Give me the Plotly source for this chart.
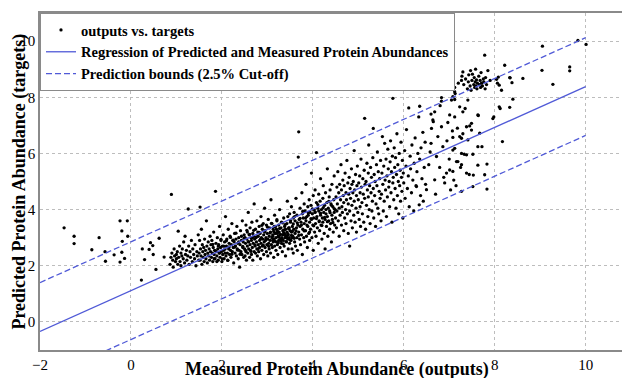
import plotly.graph_objects as go

# ---- data ----
seg_a = [(-1.47,3.35),(-1.25,3.05),(-1.25,2.79),(-0.86,2.57),(-0.70,3.0),(-0.57,2.5),(-0.56,2.16),(-0.37,2.39),(-0.24,3.6),(-0.08,3.6),
         (-0.2,3.24),(-0.07,3.05),(-0.19,2.87),(-0.2,2.48),(-0.24,2.13),(-0.14,2.26),(0.89,4.54),(0.25,2.6),(0.30,2.22),(0.40,2.58),
         (0.43,2.82),(0.48,2.72),(0.49,2.4),(0.55,1.87),(0.23,1.49),(0.62,2.98),(0.73,2.31)]

seg_b = [(0.86,2.05),(0.88,2.3),(0.9,2.45),(0.92,2.2),(0.93,1.95),(0.95,2.6),(0.96,2.35),(0.98,2.15),(1.0,2.4),(1.0,2.25),
         (1.02,2.5),(1.03,2.05),(1.04,3.23),(1.05,2.3),(1.07,2.7),(1.08,2.15),(1.1,2.45),(1.1,2.0),(1.12,2.35),(1.13,2.6),
         (1.15,2.25),(1.16,2.85),(1.18,2.1),(1.19,3.05),(1.2,2.4),(1.22,2.55),(1.23,2.2),(1.25,2.35),(1.26,4.02),(1.27,2.7),
         (1.28,2.05),(1.3,2.5),(1.31,2.3),(1.33,2.9),(1.35,2.15),(1.36,2.6),(1.38,2.4),(1.4,2.25),(1.41,2.75),(1.43,2.0),
         (1.45,2.5),(1.46,2.35),(1.48,3.1),(1.49,2.2),(1.52,4.09)]

seg_c = [(1.50,2.45),(1.51,2.9),(1.52,2.2),(1.53,2.6),(1.54,2.35),(1.55,3.3),(1.56,2.05),(1.57,2.75),(1.58,2.5),(1.59,2.3),
         (1.60,2.65),(1.61,2.15),(1.62,2.95),(1.63,2.4),(1.64,2.55),(1.65,2.25),(1.66,3.6),(1.67,2.7),(1.68,2.1),(1.69,2.45),
         (1.70,2.85),(1.71,2.35),(1.72,2.6),(1.73,2.2),(1.74,3.05),(1.75,2.5),(1.76,2.75),(1.77,2.3),(1.78,2.9),(1.79,2.45),
         (1.80,2.15),(1.81,2.65),(1.82,3.2),(1.83,2.4),(1.84,2.55),(1.85,2.25),(1.86,4.65),(1.87,2.8),(1.88,2.5),(1.89,2.35),
         (1.90,3.0),(1.91,2.6),(1.92,2.2),(1.93,2.75),(1.94,2.45),(1.95,3.4),(1.96,2.3),(1.97,2.65),(1.98,2.9),(1.99,2.5),
         (2.00,2.15),(2.01,2.7),(2.02,2.4),(2.03,3.1),(2.04,2.55),(2.05,2.25),(2.06,2.85),(2.07,2.6),(2.08,3.75),(2.09,2.35),
         (2.10,2.7),(2.11,2.95),(2.12,2.45),(2.13,2.2),(2.14,3.3),(2.15,2.6),(2.16,2.8),(2.17,2.4),(2.18,3.05),(2.19,2.55),
         (2.20,2.3),(2.21,2.75),(2.22,3.5),(2.23,2.5),(2.24,2.9),(2.25,2.65),(2.26,2.1),(2.27,2.85),(2.28,3.15),(2.29,2.45),
         (2.30,2.7),(2.31,2.95),(2.32,2.35),(2.33,3.4),(2.34,2.6),(2.35,2.8),(2.36,2.25),(2.37,3.0),(2.38,2.55),(2.39,1.95),
         (2.40,2.75),(2.41,3.25),(2.42,2.5),(2.43,2.9),(2.44,2.4),(2.45,3.6),(2.46,2.65),(2.47,2.85),(2.48,2.3),(2.49,3.1)]

seg_d = [(2.50,2.6),(2.51,3.0),(2.51,2.35),(2.52,2.8),(2.53,3.45),(2.53,2.5),(2.54,2.2),(2.55,2.95),(2.56,2.7),(2.56,3.2),
         (2.57,2.45),(2.58,3.9),(2.59,2.85),(2.59,2.6),(2.60,3.1),(2.61,2.3),(2.62,2.75),(2.62,3.35),(2.63,2.55),(2.64,3.0),
         (2.65,2.4),(2.65,2.9),(2.66,3.55),(2.67,2.65),(2.68,3.15),(2.68,2.2),(2.69,2.8),(2.70,3.05),(2.71,2.5),(2.71,4.2),
         (2.72,2.95),(2.73,2.7),(2.74,3.3),(2.74,2.45),(2.75,3.0),(2.76,2.85),(2.77,3.6),(2.77,2.6),(2.78,2.35),(2.79,3.2),
         (2.80,2.75),(2.80,3.05),(2.81,2.5),(2.82,3.4),(2.83,2.9),(2.83,2.65),(2.84,3.15),(2.85,2.25),(2.86,3.75),(2.86,2.8),
         (2.87,3.0),(2.88,2.55),(2.89,3.3),(2.89,2.7),(2.90,2.95),(2.91,3.5),(2.92,2.4),(2.92,3.1),(2.93,2.85),(2.94,4.05),
         (2.95,2.65),(2.95,3.25),(2.96,2.9),(2.97,3.0),(2.98,2.5),(2.98,3.45),(2.99,2.75),(3.00,3.15),(3.01,2.35),(3.01,2.95),
         (3.02,3.65),(3.03,2.8),(3.04,3.05),(3.04,2.6),(3.05,3.35),(3.06,2.9),(3.07,2.45),(3.07,3.2),(3.08,4.35),(3.09,2.75),
         (3.10,3.0),(3.10,3.5),(3.11,2.65),(3.12,3.1),(3.13,2.85),(3.13,3.3),(3.14,2.3),(3.15,2.95),(3.16,3.8),(3.16,2.7),
         (3.17,3.15),(3.18,3.4),(3.19,2.55),(3.19,3.0),(3.20,2.85),(3.21,3.6),(3.22,3.25),(3.22,2.75),(3.23,2.4),(3.24,3.05),
         (3.25,3.45),(3.25,2.9),(3.26,3.2),(3.27,4.0),(3.28,2.65),(3.28,3.1),(3.29,2.95),(3.30,3.35),(3.31,2.8),(3.31,3.55),
         (3.32,3.0),(3.33,2.5),(3.34,3.25),(3.34,3.1),(3.35,2.9),(3.36,3.7),(3.37,3.15),(3.37,2.7),(3.38,3.4),(3.39,3.0),
         (3.40,2.35),(3.40,3.3),(3.41,3.05),(3.42,2.85),(3.43,3.5),(3.43,3.2),(3.44,4.3),(3.45,2.95),(3.46,3.1),(3.46,2.6),
         (3.47,3.35),(3.48,3.0),(3.49,3.85),(3.49,2.8),(3.50,3.25)]

seg_core = [(1.80,2.76),(1.83,2.25),(1.86,2.53),(1.89,2.15),(1.92,2.70),(1.95,2.45),(1.98,2.94),(2.01,2.24),(2.04,2.70),(2.07,2.45),
            (2.10,2.89),(2.13,2.19),(2.16,2.67),(2.19,3.01),(2.22,2.41),(2.25,2.91),(2.28,2.66),(2.31,3.16),(2.34,2.56),(2.37,2.85),
            (2.40,2.41),(2.43,3.05),(2.46,2.69),(2.49,2.98),(2.52,2.55),(2.55,3.26),(2.58,2.86),(2.61,3.12),(2.64,2.51),(2.67,3.00),
            (2.70,3.26),(2.73,2.74),(2.76,3.03),(2.79,2.59),(2.82,3.19),(2.85,2.95),(2.88,3.44),(2.91,2.73),(2.94,3.20),(2.97,2.95),
            (3.00,3.38),(3.03,2.69),(3.06,3.17),(3.09,3.51),(3.12,2.91),(3.15,3.40),(3.18,3.16),(3.21,3.64),(3.24,3.03),(3.27,3.33),
            (3.30,2.89),(3.33,3.53),(3.36,3.18),(3.39,3.46),(3.42,3.03),(3.45,3.75),(3.48,3.35),(3.51,3.61),(3.54,3.00),(3.57,3.49),
            (3.60,3.75),(3.63,3.24),(3.66,3.53),(3.69,3.08),(3.72,3.69),(3.75,3.45),(3.78,3.94),(3.81,3.24),(3.84,3.70),(3.87,3.45),
            (3.90,3.89),(3.93,3.20),(3.96,3.68),(3.99,4.02),(4.02,3.42),(4.05,3.92),(4.08,3.68),(4.11,4.18),(4.14,3.57),(4.17,3.87),
            (4.20,3.43),(4.23,4.07),(4.26,3.72),(4.29,4.00),(4.32,3.57),(4.35,4.29),(4.38,3.89),(4.41,4.15),(4.44,3.54),(4.47,4.03),
            (3.12,3.05),(3.16,2.88),(3.20,3.30),(3.24,2.82),(3.29,3.12),(3.33,2.95),(3.37,3.28),(3.41,2.86),(3.45,3.14),(3.50,2.92),
            (3.55,3.22),(3.59,2.98),(3.14,3.22),(3.26,3.02),(3.39,3.11),(3.47,3.32),(3.53,3.08),(3.35,2.78),(3.22,3.15),(3.44,2.99)]

seg_e = [(3.51,3.55),(3.52,2.9),(3.53,3.2),(3.53,4.1),(3.54,2.6),(3.55,3.4),(3.56,3.05),(3.57,3.7),(3.57,2.45),(3.58,3.3),
         (3.59,3.9),(3.60,2.85),(3.61,3.15),(3.61,3.6),(3.62,2.7),(3.63,4.4),(3.64,3.35),(3.65,3.0),(3.65,3.8),(3.66,2.55),
         (3.67,3.45),(3.68,5.87),(3.69,6.77),(3.69,3.2),(3.70,3.65),(3.71,2.95),(3.72,4.05),(3.72,3.4),(3.73,2.75),(3.74,3.55),
         (3.75,3.1),(3.76,4.6),(3.77,3.85),(3.77,2.4),(3.78,3.3),(3.79,3.7),(3.80,3.0),(3.81,4.2),(3.81,3.5),(3.82,2.85),
         (3.83,3.95),(3.84,3.25),(3.85,3.6),(3.85,4.9),(3.86,3.05),(3.87,3.75),(3.88,2.65),(3.89,4.1),(3.89,3.4),(3.90,3.8),
         (3.91,3.15),(3.92,4.35),(3.93,3.55),(3.93,2.9),(3.94,3.9),(3.95,3.3),(3.96,4.15),(3.97,3.65),(3.97,5.3),(3.98,3.0),
         (3.99,3.85),(4.00,3.45),(4.01,4.5),(4.01,2.55),(4.02,3.7),(4.03,4.0),(4.04,3.2),(4.05,3.9),(4.05,4.7),(4.06,3.5),
         (4.07,3.05),(4.08,6.03),(4.08,4.25),(4.09,3.75),(4.10,3.35),(4.11,4.05),(4.12,2.8),(4.13,3.95),(4.13,4.55),(4.14,3.6),
         (4.15,3.25),(4.16,4.3),(4.17,3.8),(4.17,5.1),(4.18,3.45),(4.19,4.0),(4.20,2.95),(4.21,3.7),(4.22,4.4),(4.22,3.55),
         (4.23,4.85),(4.24,3.9),(4.25,3.15),(4.26,4.15),(4.27,3.65),(4.27,2.6),(4.28,4.6),(4.29,3.85),(4.30,3.4),(4.31,4.25),
         (4.32,5.45),(4.32,3.75),(4.33,3.05),(4.34,4.05),(4.35,3.6),(4.36,4.45),(4.37,3.3),(4.37,3.95),(4.38,4.7),(4.39,3.5),
         (4.40,4.2),(4.41,2.85),(4.42,3.8),(4.42,4.9),(4.43,3.65),(4.44,4.1),(4.45,3.2),(4.46,4.35),(4.47,3.9),(4.47,5.2),
         (4.48,3.45),(4.49,4.0),(4.50,3.7)]

seg_f = [(4.51,4.45),(4.52,3.35),(4.53,4.8),(4.53,3.95),(4.54,4.2),(4.55,5.35),(4.56,3.6),(4.57,4.6),(4.58,3.05),(4.58,4.05),
         (4.59,4.9),(4.60,3.8),(4.61,4.35),(4.62,5.6),(4.63,3.45),(4.63,4.7),(4.64,4.1),(4.65,3.9),(4.66,5.05),(4.67,4.5),
         (4.68,3.25),(4.68,4.25),(4.69,4.85),(4.70,3.7),(4.71,5.3),(4.72,4.0),(4.73,4.6),(4.73,3.5),(4.74,4.35),(4.75,5.75),
         (4.76,3.85),(4.77,4.95),(4.78,4.2),(4.78,3.15),(4.79,4.55),(4.80,5.15),(4.81,2.7),(4.81,3.95),(4.82,4.75),(4.83,4.4),
         (4.84,3.6),(4.85,5.45),(4.86,4.15),(4.86,4.9),(4.87,3.35),(4.88,4.6),(4.89,5.0),(4.90,3.8),(4.91,4.3),(4.91,6.1),
         (4.92,4.7),(4.93,3.55),(4.94,5.25),(4.95,4.05),(4.96,4.5),(4.96,3.2),(4.97,4.85),(4.98,5.55),(4.99,3.9),(5.00,4.35),
         (5.01,4.95),(5.02,3.65),(5.03,5.2),(5.04,4.6),(5.04,4.1),(5.05,3.4),(5.06,5.8),(5.07,4.8),(5.08,4.25),(5.09,3.85),
         (5.10,5.1),(5.11,4.55),(5.12,3.55),(5.13,5.4),(5.14,7.25),(5.14,4.4),(5.15,4.9),(5.16,3.3),(5.17,5.0),(5.18,4.15),
         (5.19,5.65),(5.20,4.7),(5.21,3.75),(5.22,5.3),(5.22,4.45),(5.23,6.3),(5.24,4.0),(5.25,4.85),(5.26,3.5),(5.27,5.5),
         (5.28,4.6),(5.29,5.15),(5.30,3.95),(5.31,4.3),(5.32,5.85),(5.33,6.89),(5.33,4.75),(5.34,3.7),(5.35,5.25),(5.36,4.5),
         (5.37,5.0),(5.38,3.4),(5.39,4.2),(5.40,5.6),(5.41,4.85),(5.42,6.05),(5.43,4.05),(5.44,5.35),(5.45,3.85),(5.46,4.65),
         (5.47,5.1),(5.48,4.4),(5.49,5.75),(5.50,3.6)]

seg_g = [(5.51,4.55),(5.52,5.3),(5.53,6.6),(5.54,4.9),(5.55,3.95),(5.56,5.55),(5.57,4.3),(5.58,6.36),(5.59,5.05),(5.60,4.7),
         (5.61,5.8),(5.62,3.75),(5.63,5.2),(5.64,4.45),(5.65,6.15),(5.66,5.45),(5.67,4.8),(5.68,5.0),(5.69,4.1),(5.70,5.7),
         (5.71,6.45),(5.72,4.6),(5.73,5.35),(5.74,3.55),(5.75,5.9),(5.76,7.96),(5.76,4.95),(5.77,5.15),(5.78,4.35),(5.79,6.2),
         (5.80,5.5),(5.81,4.75),(5.82,5.85),(5.83,4.05),(5.84,5.25),(5.85,6.7),(5.86,4.5),(5.87,5.6),(5.88,5.0),(5.89,3.85),
         (5.90,6.0),(5.91,4.85),(5.92,5.4),(5.93,4.3),(5.94,6.4),(5.95,5.15),(5.96,4.65),(5.97,5.75),(5.98,3.7),(5.99,5.3),
         (6.00,4.95),(6.02,6.1),(6.03,4.4),(6.05,5.55),(6.06,6.85),(6.08,4.75),(6.10,5.2),(6.11,7.62),(6.12,4.1),(6.14,5.9),
         (6.15,5.45),(6.17,4.6),(6.18,6.3),(6.20,5.05),(6.22,3.95),(6.23,5.65),(6.25,6.55),(6.27,4.85),(6.28,4.82),(6.29,5.35),
         (6.31,6.0),(6.33,7.3),(6.34,4.17),(6.35,5.8),(6.35,7.68),(6.37,4.5),(6.38,6.2),(6.40,5.1),(6.42,6.75),(6.43,4.3),
         (6.45,5.5),(6.47,6.4),(6.48,4.9)]

seg_h = [(6.5,4.71),(6.55,5.6),(6.58,6.05),(6.6,6.36),(6.61,6.89),(6.6,7.4),(6.64,7.19),(6.65,7.13),(6.68,7.48),(6.68,5.06),
         (6.7,4.55),(6.72,5.89),(6.75,6.6),(6.79,5.5),(6.8,7.7),(6.83,7.99),(6.83,6.95),(6.83,7.86),(6.86,6.24),(6.88,5.15),
         (6.9,4.95),(6.92,8.82),(6.94,5.3),(6.95,6.45),(6.97,7.1),(7.0,5.8),(7.01,7.37),(7.01,5.41),(7.03,4.7),(7.05,7.9),
         (7.07,6.8),(7.08,8.02),(7.08,6.57),(7.08,6.12),(7.08,5.36),(7.1,5.05),(7.12,8.35),(7.12,8.2),(7.12,7.92),(7.12,7.3),
         (7.12,6.18),(7.13,8.13),(7.15,4.85),(7.16,5.71),(7.18,6.9),(7.19,5.71),(7.2,8.5),(7.23,7.66),(7.23,6.6),(7.25,5.5),
         (7.27,8.6),(7.27,6.54),(7.27,6.0),(7.27,5.6),(7.27,4.65),(7.28,8.75),(7.3,7.48),(7.3,6.7),(7.3,8.9),(7.32,8.45),
         (7.33,5.97),(7.35,7.6),(7.36,8.65),(7.38,6.95),(7.38,5.95),(7.38,5.3),(7.4,8.3),(7.41,7.9),(7.41,6.48),(7.42,8.55),
         (7.43,8.8),(7.44,5.25),(7.45,6.98),(7.46,8.4),(7.47,8.95),(7.48,8.25),(7.49,7.07),(7.49,6.83),(7.5,8.6),(7.51,8.82),
         (7.52,5.97),(7.52,4.82),(7.53,5.23),(7.54,8.45),(7.55,8.7),(7.56,8.35),(7.57,8.55),(7.58,9.0),(7.59,8.4),(7.6,8.62),
         (7.61,8.3),(7.62,8.5),(7.63,7.37),(7.63,6.24),(7.63,5.58),(7.64,7.35),(7.65,8.75),(7.66,8.45),(7.67,6.72),(7.68,8.6),
         (7.69,8.35),(7.7,8.88),(7.71,8.5),(7.72,6.24),(7.73,8.4),(7.75,8.65),(7.76,8.55),(7.78,9.5),(7.78,5.24),(7.79,8.3),
         (7.8,8.7),(7.82,8.45),(7.83,5.62),(7.83,4.73),(7.85,8.95),(7.9,8.6),(7.96,7.24),(7.98,7.3),(8.04,8.64),(8.06,8.5),
         (8.08,8.72),(8.1,7.66),(8.1,8.43),(8.12,7.6),(8.15,8.25),(8.17,6.42),(8.22,9.14),(8.33,8.7),(8.33,7.64),(8.34,8.69),
         (8.38,8.52),(8.4,7.93)]

seg_i = [(8.62,8.67),(9.04,8.96),(9.05,9.82),(9.28,8.46),(9.65,9.08),(9.65,8.94),(9.83,10.02),(10.01,9.88)]

# regression fit
fit_slope = 0.7267
fit_intercept = 1.113
bound_offset = 1.74
fit_x = [-2, 10]

x_ticks = [-2, 0, 2, 4, 6, 8, 10]
y_ticks = [0, 2, 4, 6, 8, 10]

# ---- build ----
points = seg_a + seg_b + seg_c + seg_d + seg_core + seg_e + seg_f + seg_g + seg_h + seg_i
outputs = [p[0] for p in points]
targets = [p[1] for p in points]

fit_y = [fit_slope * v + fit_intercept for v in fit_x]
upper_y = [v + bound_offset for v in fit_y]
lower_y = [v - bound_offset for v in fit_y]

LINE = "rgb(80,90,215)"
SERIF = "Liberation Serif"

fig = go.Figure()
fig.add_trace(go.Scatter(x=outputs, y=targets, mode="markers", name="<b>outputs vs. targets</b>",
                         marker=dict(color="black", size=3.3)))
fig.add_trace(go.Scatter(x=fit_x, y=fit_y, mode="lines",
                         name="<b>Regression of Predicted and Measured Protein Abundances</b>",
                         line=dict(color=LINE, width=1.3)))
fig.add_trace(go.Scatter(x=fit_x, y=upper_y, mode="lines", name="<b>Prediction bounds (2.5% Cut-off)</b>",
                         line=dict(color=LINE, width=1.3, dash="6px,3px"), legendgroup="b"))
fig.add_trace(go.Scatter(x=fit_x, y=lower_y, mode="lines", showlegend=False,
                         line=dict(color=LINE, width=1.3, dash="6px,3px"), legendgroup="b"))

axis_common = dict(showgrid=True, gridcolor="#bdbdbd", griddash="dot", gridwidth=1,
                   zeroline=False, showline=True, linecolor="#8a8a8a", linewidth=1.5,
                   ticks="", tickfont=dict(family=SERIF, size=15, color="black"))
fig.update_xaxes(range=[-2, 10.8], tickvals=x_ticks, mirror=True, **axis_common)
fig.update_yaxes(range=[-1, 11], tickvals=y_ticks, mirror=False, **axis_common)

fig.add_annotation(text="<b>Measured Protein Abundance (outputs)</b>", xref="paper", yref="paper",
                   x=0.51, y=-0.059, xanchor="center", yanchor="middle", showarrow=False,
                   font=dict(family=SERIF, size=18, color="black"))
fig.add_annotation(text="<b>Predicted Protein Abundance (targets)</b>", xref="paper", yref="paper",
                   x=-0.036, y=0.50, xanchor="center", yanchor="middle", textangle=-90, showarrow=False,
                   font=dict(family=SERIF, size=18, color="black"))

fig.update_layout(
    width=622, height=378,
    margin=dict(l=40, r=0, t=13, b=28),
    font=dict(family=SERIF, color="black"),
    plot_bgcolor="white", paper_bgcolor="white",
    showlegend=True,
    legend=dict(x=0, y=1, xanchor="left", yanchor="top", bgcolor="white",
                bordercolor="#8a8a8a", borderwidth=1, itemwidth=30, tracegroupgap=0,
                font=dict(family=SERIF, size=14.5, color="black")),
)

fig.write_html("out.html", config={"displayModeBar": False},
               post_script="document.body.style.margin='0';document.body.style.padding='0';")
